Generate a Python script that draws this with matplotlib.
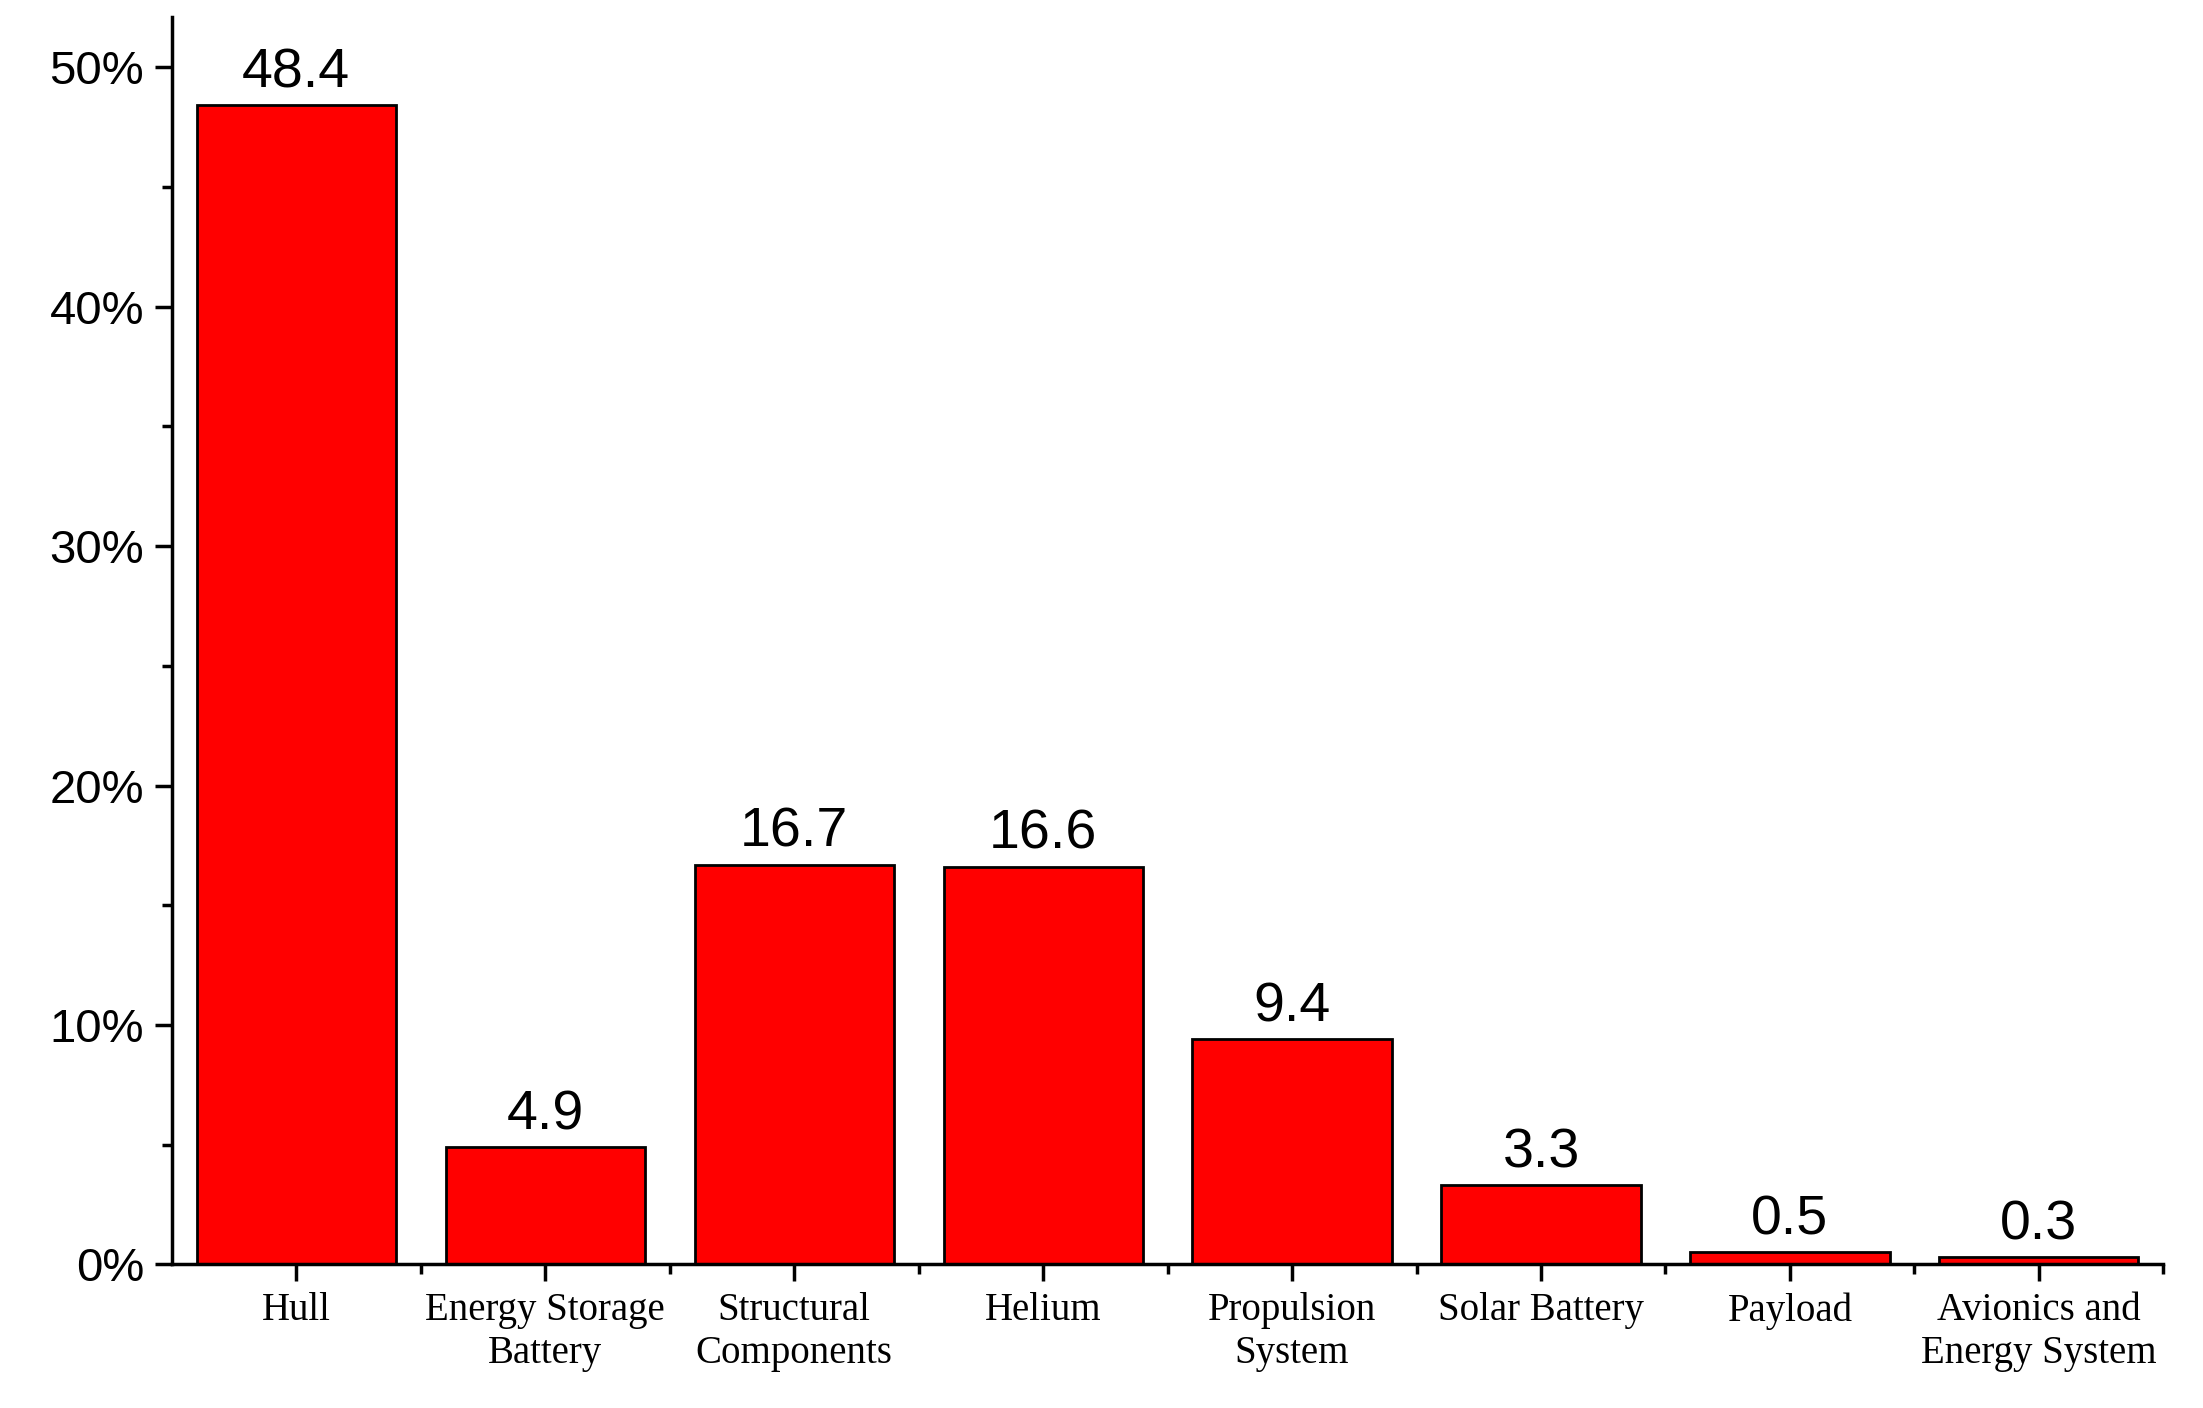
import matplotlib.pyplot as plt
import numpy as np
from matplotlib.ticker import MultipleLocator, FixedLocator

categories = ['Hull', 'Energy Storage\nBattery', 'Structural\nComponents', 'Helium',
              'Propulsion\nSystem', 'Solar Battery', 'Payload', 'Avionics and\nEnergy System']
values = [48.4, 4.9, 16.7, 16.6, 9.4, 3.3, 0.5, 0.3]

fig = plt.figure(figsize=(22.03, 14.08), dpi=100)
ax = fig.add_axes([0.078, 0.102, 0.904, 0.886])

x = np.arange(len(categories))
ax.bar(x, values, width=0.8, color='#ff0000', edgecolor='black', linewidth=2)

for xi, v in zip(x, values):
    ax.text(xi, v + 0.25, f'{v}', ha='center', va='bottom', fontsize=40,
            family='Liberation Sans')

ax.set_xlim(-0.5, len(categories) - 0.5)
ax.set_ylim(0, 52.1)
ax.yaxis.set_major_locator(MultipleLocator(10))
ax.yaxis.set_minor_locator(MultipleLocator(5))
ax.set_yticks(range(0, 51, 10))
ax.set_yticklabels([f'{t}%' for t in range(0, 51, 10)], family='Liberation Sans', fontsize=34)
ax.set_xticks(x)
ax.set_xticklabels(categories, family='Liberation Serif', fontsize=28, linespacing=1.2)
ax.xaxis.set_minor_locator(FixedLocator(np.arange(len(categories)) + 0.5))

for s in ['top', 'right']:
    ax.spines[s].set_visible(False)
for s in ['left', 'bottom']:
    ax.spines[s].set_linewidth(2.5)
ax.tick_params(which='major', direction='out', length=12, width=2.5, pad=8)
ax.tick_params(which='minor', direction='out', length=7, width=2.5)

fig.savefig('out.png', dpi=100)
